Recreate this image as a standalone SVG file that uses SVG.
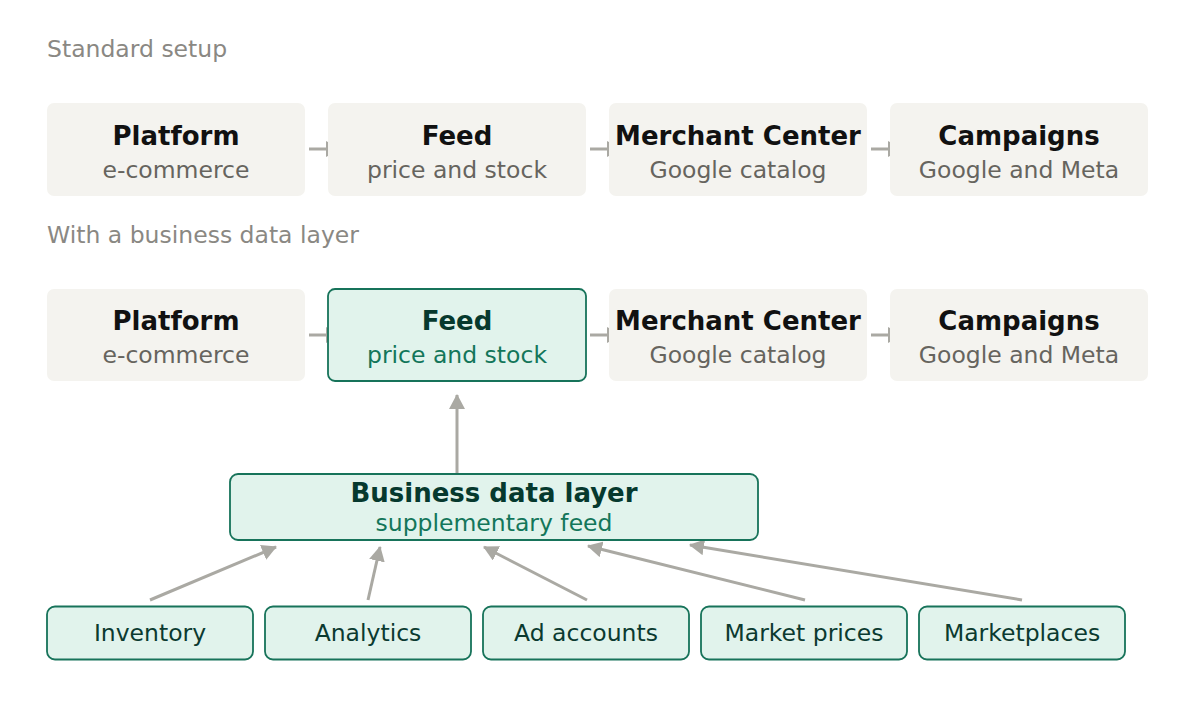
<svg xmlns="http://www.w3.org/2000/svg" width="1195" height="710" viewBox="0 0 1195 710">
<style>
text{font-family:"DejaVu Sans","Liberation Sans",sans-serif;text-anchor:middle}
.sec{font-size:23.5px;fill:#8a8883;text-anchor:start}
.g{fill:#f4f3ef}
.gt{font-size:26px;font-weight:bold;fill:#111111}
.gs{font-size:23.5px;fill:#66645e}
.m{fill:#e1f3ec;stroke:#17735a;stroke-width:1.8}
.mt{font-size:26px;font-weight:bold;fill:#06392e}
.ms{font-size:23.5px;fill:#13765a}
.src{font-size:23.5px;fill:#0b3a30}
.c{stroke:#aaa9a3;stroke-width:3;fill:none;marker-end:url(#ah)}
</style>
<defs>
<marker id="ah" viewBox="0 0 15 16" refX="14" refY="8" markerWidth="15" markerHeight="16" orient="auto" markerUnits="userSpaceOnUse">
<path d="M0,0 L15,8 L0,16 Z" fill="#aaa9a3"/>
</marker>
</defs>
<rect width="1195" height="710" fill="#ffffff"/>
<text class="sec" x="47" y="57">Standard setup</text>
<text class="sec" x="47" y="243">With a business data layer</text>
<g id="connectors">
<line class="c" x1="309" y1="149" x2="340" y2="149"/>
<line class="c" x1="590" y1="149" x2="621" y2="149"/>
<line class="c" x1="871" y1="149" x2="902" y2="149"/>
<line class="c" x1="309" y1="335" x2="340" y2="335"/>
<line class="c" x1="590" y1="335" x2="621" y2="335"/>
<line class="c" x1="871" y1="335" x2="902" y2="335"/>
<line class="c" x1="457" y1="474" x2="457" y2="395"/>
<line class="c" x1="150" y1="600" x2="276" y2="547"/>
<line class="c" x1="368" y1="600" x2="380" y2="547"/>
<line class="c" x1="587" y1="600" x2="484" y2="547"/>
<line class="c" x1="805" y1="600" x2="588" y2="546"/>
<line class="c" x1="1022" y1="600" x2="690" y2="545"/>
</g>
<g id="n-platform1"><rect class="g" x="47" y="103" width="258" height="93" rx="7"/><text class="gt" x="176" y="145">Platform</text><text class="gs" x="176" y="178">e-commerce</text></g>
<g id="n-feed1"><rect class="g" x="328" y="103" width="258" height="93" rx="7"/><text class="gt" x="457" y="145">Feed</text><text class="gs" x="457" y="178">price and stock</text></g>
<g id="n-merchant1"><rect class="g" x="609" y="103" width="258" height="93" rx="7"/><text class="gt" x="738" y="145">Merchant Center</text><text class="gs" x="738" y="178">Google catalog</text></g>
<g id="n-campaigns1"><rect class="g" x="890" y="103" width="258" height="93" rx="7"/><text class="gt" x="1019" y="145">Campaigns</text><text class="gs" x="1019" y="178">Google and Meta</text></g>
<g id="n-platform2"><rect class="g" x="47" y="289" width="258" height="92" rx="7"/><text class="gt" x="176" y="330">Platform</text><text class="gs" x="176" y="363">e-commerce</text></g>
<g id="n-feed2"><rect class="m" x="328" y="289" width="258" height="92" rx="7"/><text class="mt" x="457" y="330">Feed</text><text class="ms" x="457" y="363">price and stock</text></g>
<g id="n-merchant2"><rect class="g" x="609" y="289" width="258" height="92" rx="7"/><text class="gt" x="738" y="330">Merchant Center</text><text class="gs" x="738" y="363">Google catalog</text></g>
<g id="n-campaigns2"><rect class="g" x="890" y="289" width="258" height="92" rx="7"/><text class="gt" x="1019" y="330">Campaigns</text><text class="gs" x="1019" y="363">Google and Meta</text></g>
<g id="n-bdl"><rect class="m" x="230" y="474" width="528" height="66" rx="8"/><text class="mt" x="494" y="502">Business data layer</text><text class="ms" x="494" y="531">supplementary feed</text></g>
<g id="n-inventory"><rect class="m" x="47" y="606.5" width="206" height="53" rx="8"/><text class="src" x="150" y="641">Inventory</text></g>
<g id="n-analytics"><rect class="m" x="265" y="606.5" width="206" height="53" rx="8"/><text class="src" x="368" y="641">Analytics</text></g>
<g id="n-adaccounts"><rect class="m" x="483" y="606.5" width="206" height="53" rx="8"/><text class="src" x="586" y="641">Ad accounts</text></g>
<g id="n-marketprices"><rect class="m" x="701" y="606.5" width="206" height="53" rx="8"/><text class="src" x="804" y="641">Market prices</text></g>
<g id="n-marketplaces"><rect class="m" x="919" y="606.5" width="206" height="53" rx="8"/><text class="src" x="1022" y="641">Marketplaces</text></g>
</svg>
